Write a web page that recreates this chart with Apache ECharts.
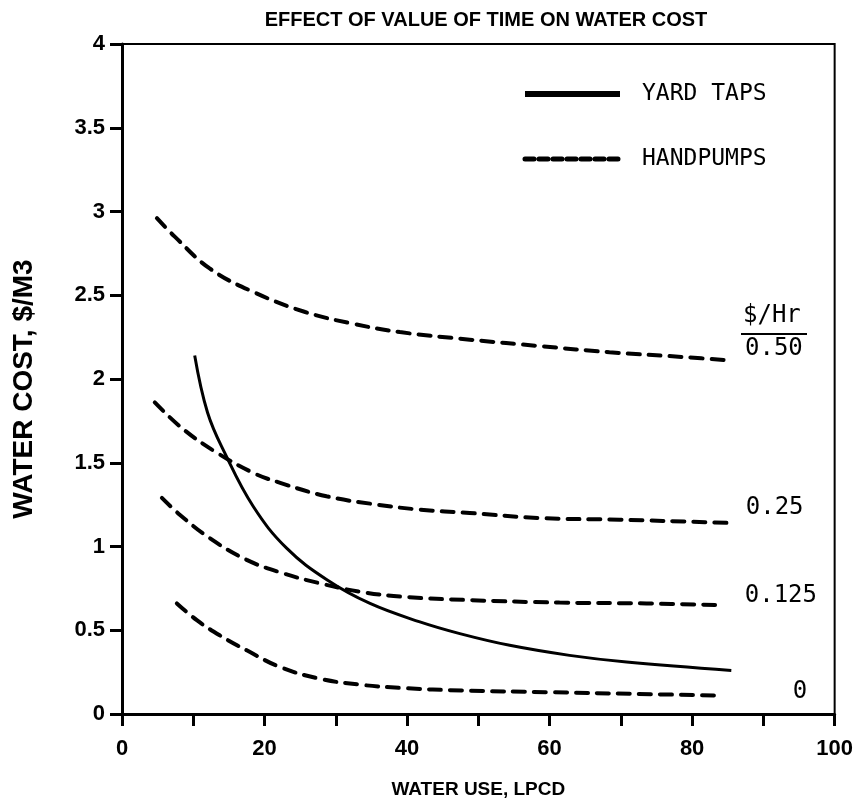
<!DOCTYPE html>
<html>
<head>
<meta charset="utf-8">
<script src="https://cdn.jsdelivr.net/npm/echarts@6/dist/echarts.min.js"></script>
<style>
html,body{margin:0;padding:0;background:#fff;}
#chart{width:856px;height:811px;}
</style>
</head>
<body>
<div id="chart"></div>
<script>
// ---- data ----
const xTicksLabelled = [0, 20, 40, 60, 80, 100];
const yardX = [10.2, 12.0, 14.4, 18.4, 23.1, 28.8, 34.8, 41.8, 47.4, 54.4, 62.8, 70.8, 85.5];
const yardY = [2.14, 1.80, 1.56, 1.24, 0.99, 0.80, 0.66, 0.55, 0.48, 0.41, 0.35, 0.31, 0.26];

const hp050X = [4.9, 7.4, 12.3, 18.4, 25.7, 32.4, 39.0, 48.8, 59.0, 68.4, 79.2, 85.6];
const hp050Y = [2.96, 2.85, 2.66, 2.52, 2.40, 2.33, 2.28, 2.235, 2.195, 2.16, 2.13, 2.11];

const hp025X = [4.6, 8.6, 13.3, 18.4, 22.2, 28.7, 35.8, 41.8, 48.8, 58.6, 69.8, 82.0, 85.7];
const hp025Y = [1.86, 1.70, 1.56, 1.44, 1.38, 1.30, 1.25, 1.22, 1.20, 1.17, 1.16, 1.145, 1.14];

const hp0125X = [5.6, 8.1, 12.3, 17.5, 22.6, 27.8, 33.4, 39.4, 48.8, 61.4, 73.6, 84.3];
const hp0125Y = [1.29, 1.19, 1.05, 0.92, 0.84, 0.78, 0.73, 0.70, 0.68, 0.665, 0.66, 0.65];

const hp0X = [7.7, 10.5, 13.7, 17.5, 22.2, 27.8, 33.4, 39.4, 47.8, 60.0, 72.0, 84.3];
const hp0Y = [0.66, 0.56, 0.47, 0.38, 0.28, 0.21, 0.175, 0.155, 0.14, 0.13, 0.12, 0.11];

const curveLabels = ['0.50', '0.25', '0.125', '0'];
const labelHeader = '$/Hr';
const legendNames = ['YARD TAPS', 'HANDPUMPS'];

function pairs(xs, ys) { return xs.map((x, i) => [x, ys[i]]); }

const monoFont = '"DejaVu Sans Mono", monospace';
const boldFont = '"Liberation Sans", Arial, sans-serif';

const dashStyle = { color: '#000', width: 4, type: [12, 9], cap: 'round' };

function hpSeries(xs, ys, label, offset) {
  return {
    name: legendNames[1],
    type: 'line',
    data: pairs(xs, ys),
    smooth: 0.4,
    symbol: 'none',
    itemStyle: { color: '#000' },
    lineStyle: dashStyle,
    endLabel: {
      show: true,
      formatter: label,
      fontFamily: monoFont,
      fontSize: 24,
      color: '#000',
      offset: offset
    }
  };
}

const chart = echarts.init(document.getElementById('chart'));
chart.setOption({
  animation: false,
  backgroundColor: '#fff',
  title: {
    text: 'EFFECT OF VALUE OF TIME ON WATER COST',
    left: 481,
    top: 5,
    textAlign: 'center',
    textStyle: { fontFamily: boldFont, fontWeight: 'bold', fontSize: 20, color: '#000' }
  },
  grid: { left: 122, right: 21, top: 44, bottom: 97, show: true, borderColor: '#000', borderWidth: 2 },
  legend: {
    orient: 'vertical',
    left: 517,
    top: 77,
    itemWidth: 95,
    itemHeight: 20,
    itemGap: 41,
    itemStyle: { opacity: 0 },
    textStyle: { fontFamily: monoFont, fontSize: 23, color: '#000', padding: [0, 0, 0, 17], lineHeight: 24 },
    data: [
      { name: legendNames[0], itemStyle: { opacity: 0 }, lineStyle: { width: 6, color: '#000', type: 'solid' } },
      { name: legendNames[1], itemStyle: { opacity: 0 }, lineStyle: { width: 5, color: '#000', type: [9, 5] } }
    ],
    selectedMode: false
  },
  xAxis: {
    type: 'value', min: 0, max: 100, interval: 10,
    name: 'WATER USE, LPCD', nameLocation: 'middle', nameGap: 66,
    nameTextStyle: { fontFamily: boldFont, fontWeight: 'bold', fontSize: 19, color: '#000' },
    axisLine: { lineStyle: { color: '#000', width: 3 } },
    axisTick: { length: 12, lineStyle: { color: '#000', width: 3 } },
    axisLabel: {
      margin: 24,
      formatter: v => xTicksLabelled.indexOf(v) >= 0 ? String(v) : '',
      fontFamily: boldFont, fontWeight: 'bold', fontSize: 22, color: '#000'
    },
    splitLine: { show: false }
  },
  yAxis: {
    type: 'value', min: 0, max: 4, interval: 0.5,
    name: 'WATER COST, $/M3', nameLocation: 'middle', nameGap: 84, nameRotate: 90,
    nameTextStyle: { fontFamily: boldFont, fontWeight: 'bold', fontSize: 28, color: '#000', padding: [0, 20, 0, 0] },
    axisLine: { lineStyle: { color: '#000', width: 3 } },
    axisTick: { length: 12, lineStyle: { color: '#000', width: 3 } },
    axisLabel: { margin: 17, fontFamily: boldFont, fontWeight: 'bold', fontSize: 22, color: '#000' },
    splitLine: { show: false }
  },
  graphic: [
    { type: 'text', left: 743, top: 304, style: { text: labelHeader, font: '24px ' + monoFont, fill: '#000' } },
    { type: 'line', shape: { x1: 741, y1: 334, x2: 807, y2: 334 }, style: { stroke: '#000', lineWidth: 2 } }
  ],
  series: [
    {
      name: legendNames[0], type: 'line', data: pairs(yardX, yardY),
      smooth: 0.4, symbol: 'none',
      itemStyle: { color: '#000' },
      lineStyle: { color: '#000', width: 3 }
    },
    hpSeries(hp050X, hp050Y, curveLabels[0], [5, -12]),
    hpSeries(hp025X, hp025Y, curveLabels[1], [5, -15]),
    hpSeries(hp0125X, hp0125Y, curveLabels[2], [14, -9]),
    hpSeries(hp0X, hp0Y, curveLabels[3], [62, -4])
  ]
});
</script>
</body>
</html>
